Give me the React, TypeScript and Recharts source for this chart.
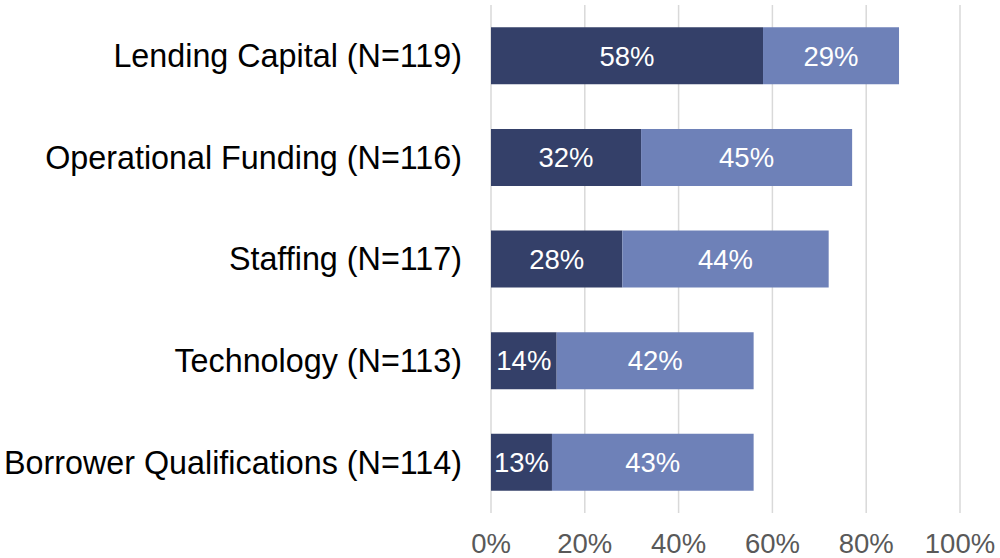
import React from 'react';
import { BarChart, Bar, XAxis, YAxis, CartesianGrid, LabelList } from 'recharts';

const categories = [
  'Lending Capital (N=119)',
  'Operational Funding (N=116)',
  'Staffing (N=117)',
  'Technology (N=113)',
  'Borrower Qualifications (N=114)',
];
const darkValues = [58, 32, 28, 14, 13];
const lightValues = [29, 45, 44, 42, 43];
const xTicks = [0, 20, 40, 60, 80, 100];

const data = categories.map((name, i) => ({ name, dark: darkValues[i], light: lightValues[i] }));

const FONT = '"Liberation Sans", Arial, sans-serif';

export default function App() {
  return (
    <div style={{ position: 'absolute', left: 0, top: 0, width: 1000, height: 558, background: '#fff', fontFamily: FONT }}>
      <BarChart
        width={1000}
        height={558}
        data={data}
        layout="vertical"
        margin={{ top: 5, right: 40, bottom: 0, left: 0 }}
        barCategoryGap="22%"
      >
        <CartesianGrid horizontal={false} stroke="#d9d9d9" strokeWidth={1.5} />
        <XAxis
          type="number"
          domain={[0, 100]}
          ticks={xTicks}
          tickFormatter={(v: number) => `${v}%`}
          axisLine={false}
          tickLine={false}
          tickSize={0}
          tickMargin={20}
          height={45}
          tick={{ fill: '#595959', fontSize: 27.5, fontFamily: FONT }}
          interval={0}
        />
        <YAxis
          type="category"
          dataKey="name"
          width={491}
          axisLine={false}
          tickLine={false}
          tickSize={0}
          tickMargin={29}
          tick={{ fill: '#000', fontSize: 32.3, fontFamily: FONT }}
          interval={0}
        />
        <Bar dataKey="dark" stackId="a" fill="#344069" isAnimationActive={false}>
          <LabelList dataKey="dark" position="center" fill="#fff" fontSize={27.5} fontFamily={FONT} formatter={(v: number) => `${v}%`} />
        </Bar>
        <Bar dataKey="light" stackId="a" fill="#6E81B8" isAnimationActive={false}>
          <LabelList dataKey="light" position="center" fill="#fff" fontSize={27.5} fontFamily={FONT} formatter={(v: number) => `${v}%`} />
        </Bar>
      </BarChart>
    </div>
  );
}
